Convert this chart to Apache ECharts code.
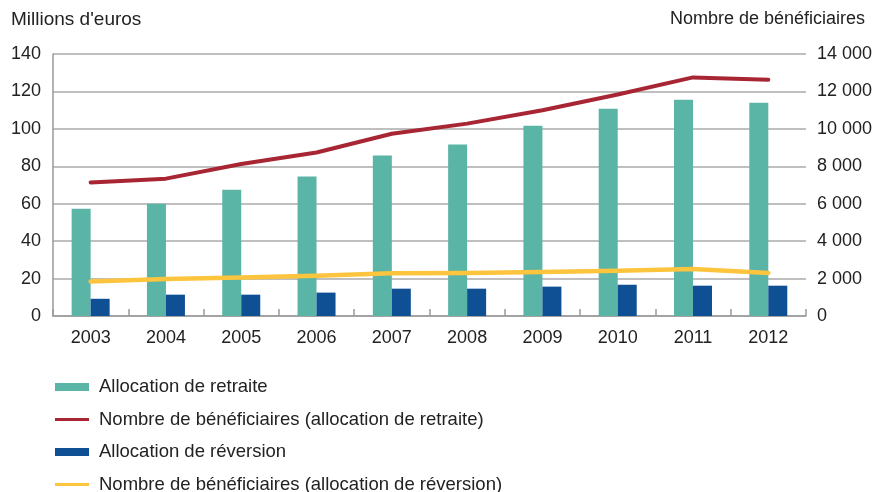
<!DOCTYPE html>
<html>
<head>
<meta charset="utf-8">
<script src="https://cdn.jsdelivr.net/npm/echarts@6/dist/echarts.min.js"></script>
<style>
html,body{margin:0;padding:0;background:#fff;}
#chart{width:875px;height:492px;}
</style>
</head>
<body>
<div id="chart"></div>
<script>
var years = ['2003','2004','2005','2006','2007','2008','2009','2010','2011','2012'];
var allocRetraite = [57.3, 60.0, 67.5, 74.5, 85.7, 91.6, 101.7, 110.8, 115.6, 114.0];
var allocReversion = [9.2, 11.4, 11.4, 12.5, 14.6, 14.6, 15.7, 16.7, 16.2, 16.2];
var benefRetraite = [7140, 7340, 8120, 8740, 9740, 10280, 10990, 11840, 12750, 12630];
var benefReversion = [1850, 1980, 2060, 2150, 2280, 2300, 2350, 2420, 2510, 2300];
var leftTitle = "Millions d'euros";
var rightTitle = "Nombre de bénéficiaires";
var names = ['Allocation de retraite', 'Nombre de bénéficiaires (allocation de retraite)', 'Allocation de réversion', 'Nombre de bénéficiaires (allocation de réversion)'];

var FONT = 'Liberation Sans, Arial, Helvetica, sans-serif';
var colors = ['#5ab5a6', '#a82634', '#0f4f93', '#fdc43e'];
var barIcon = 'path://M0,0 H34 V8 H0 Z M39,8 L39,8';
var lineIcon = 'path://M0,0 L0,0 M0,2.5 H34 V5.5 H0 Z M39,8 L39,8';

var chart = echarts.init(document.getElementById('chart'), null, {renderer: 'canvas'});
chart.setOption({
  animation: false,
  backgroundColor: '#fff',
  textStyle: {fontFamily: FONT},
  grid: {left: 53, right: 68, top: 54, bottom: 176, containLabel: false},
  graphic: [
    {type: 'text', left: 11, top: 10, style: {text: leftTitle, font: '19px ' + FONT, fill: '#222'}},
    {type: 'text', right: 10, top: 10, style: {text: rightTitle, font: '18px ' + FONT, fill: '#222'}}
  ],
  legend: {
    orient: 'vertical',
    left: 55,
    top: 377,
    height: 140,
    padding: 0,
    itemWidth: 39,
    itemHeight: 8,
    itemGap: 12.5,
    textStyle: {fontSize: 18.5, color: '#222', lineHeight: 20, fontFamily: FONT},
    data: [
      {name: names[0], icon: barIcon, itemStyle: {color: colors[0], borderWidth: 0}},
      {name: names[1], icon: lineIcon, itemStyle: {color: colors[1], borderWidth: 0}},
      {name: names[2], icon: barIcon, itemStyle: {color: colors[2], borderWidth: 0}},
      {name: names[3], icon: lineIcon, itemStyle: {color: colors[3], borderWidth: 0}}
    ]
  },
  xAxis: {
    type: 'category',
    data: years,
    boundaryGap: true,
    axisLine: {show: true, lineStyle: {color: '#9a9a9a', width: 1.5}},
    axisTick: {show: true, inside: true, length: 7, lineStyle: {color: '#9a9a9a', width: 1.5}},
    axisLabel: {fontSize: 18, color: '#222', margin: 13, fontFamily: FONT},
    splitLine: {show: false}
  },
  yAxis: [
    {
      type: 'value', min: 0, max: 140, interval: 20,
      axisLine: {show: true, lineStyle: {color: '#9a9a9a', width: 1.5}},
      axisTick: {show: false},
      axisLabel: {fontSize: 18, color: '#222', margin: 12, fontFamily: FONT},
      splitLine: {show: true, lineStyle: {color: '#aaaaaa', width: 1.5}}
    },
    {
      type: 'value', min: 0, max: 14000, interval: 2000,
      axisLine: {show: false},
      axisTick: {show: false},
      axisLabel: {fontSize: 18, color: '#222', margin: 11, fontFamily: FONT,
        formatter: function (v) { return v === 0 ? '0' : (v / 1000) + ' 000'; }},
      splitLine: {show: false}
    }
  ],
  series: [
    {name: names[0], type: 'bar', data: allocRetraite, barWidth: 19, barGap: '0%', color: colors[0], itemStyle: {color: colors[0]}, yAxisIndex: 0},
    {name: names[1], type: 'line', data: benefRetraite, yAxisIndex: 1, symbol: 'none', color: colors[1], z: 4,
      lineStyle: {color: colors[1], width: 4, cap: 'round', join: 'round'}},
    {name: names[2], type: 'bar', data: allocReversion, barWidth: 19, barGap: '0%', color: colors[2], itemStyle: {color: colors[2]}, yAxisIndex: 0},
    {name: names[3], type: 'line', data: benefReversion, yAxisIndex: 1, symbol: 'none', color: colors[3], z: 4,
      lineStyle: {color: colors[3], width: 4.5, cap: 'round', join: 'round'}}
  ]
});
</script>
</body>
</html>
